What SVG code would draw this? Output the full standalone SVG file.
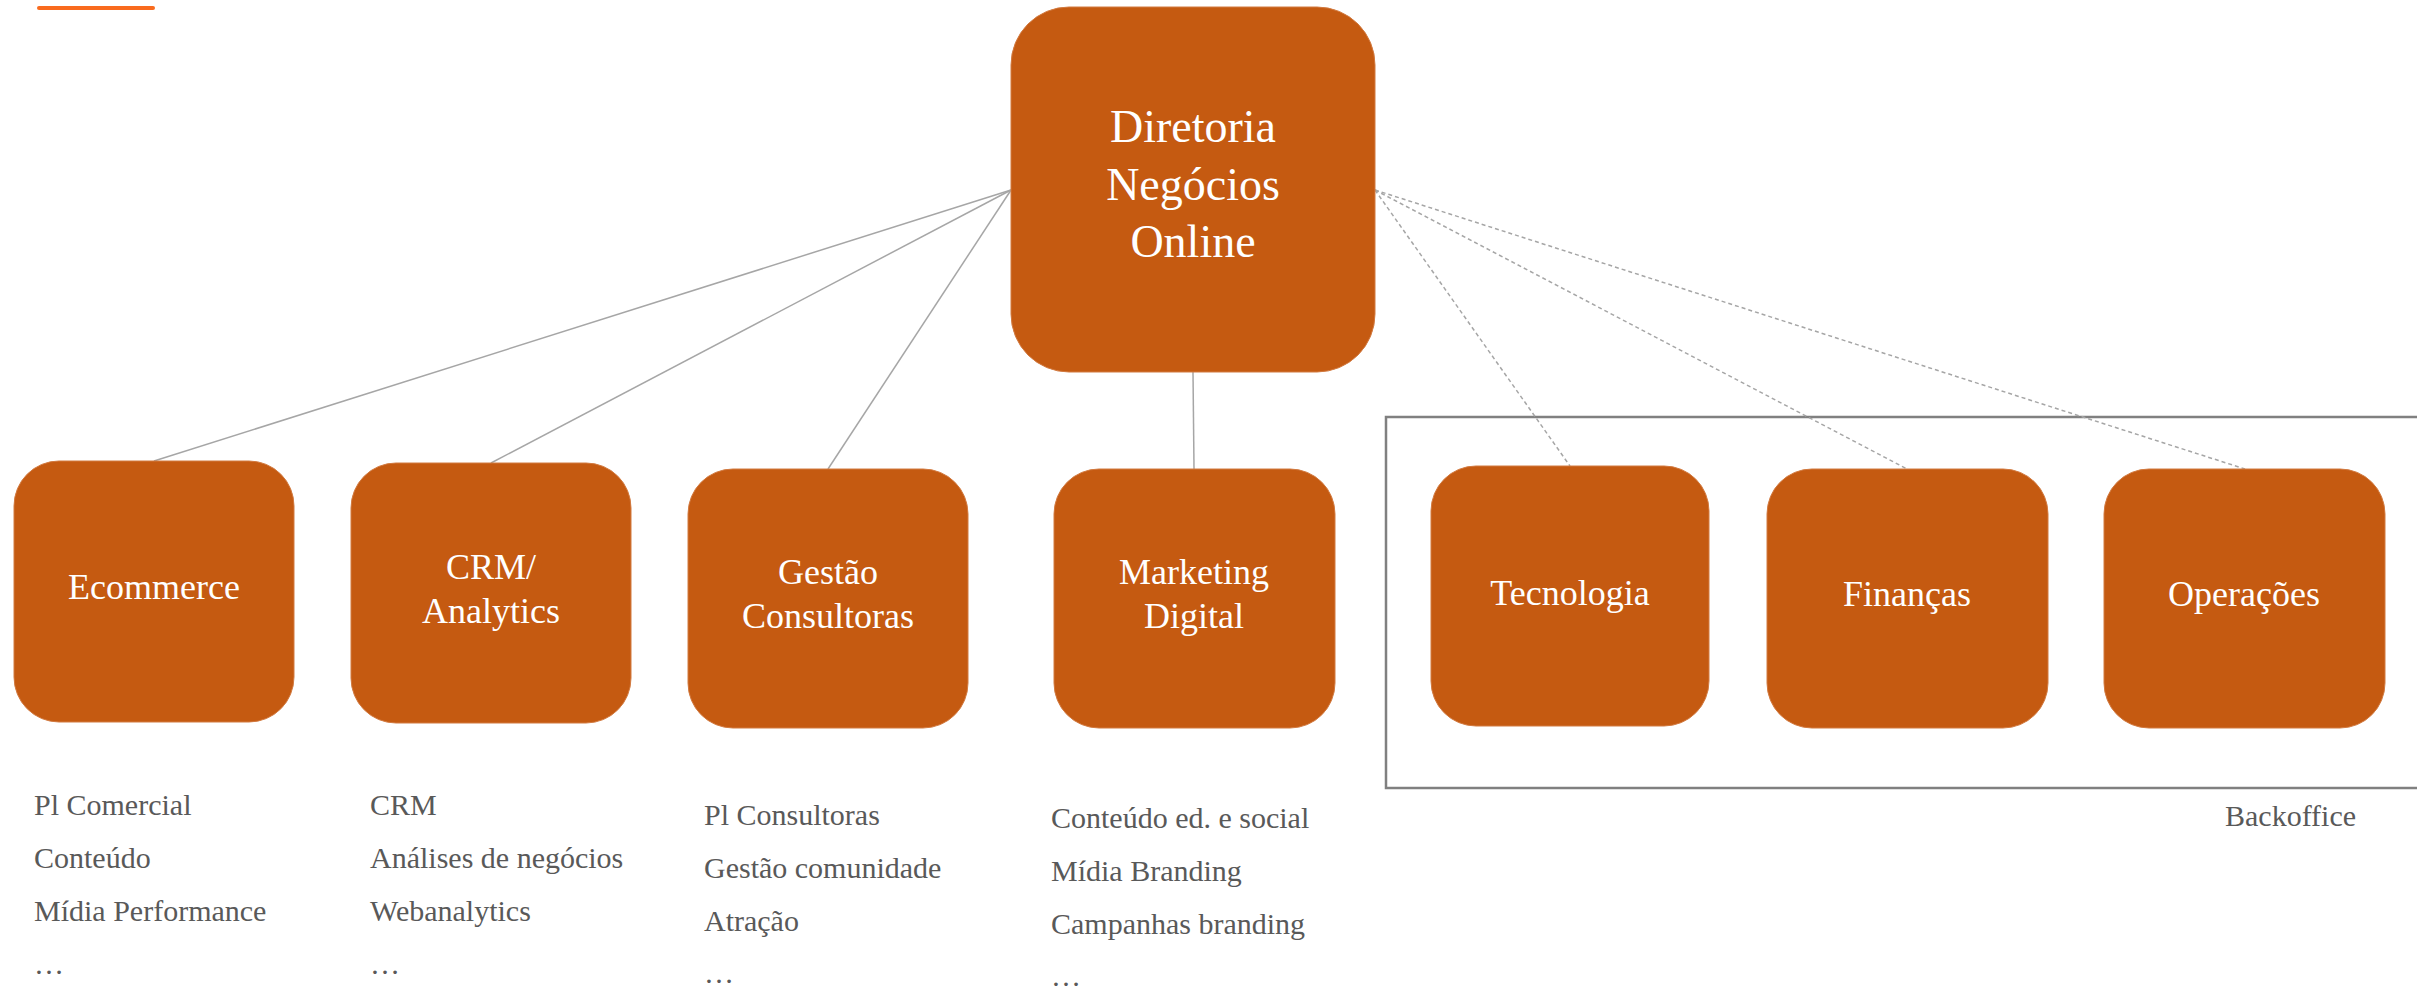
<svg xmlns="http://www.w3.org/2000/svg" width="2417" height="989" viewBox="0 0 2417 989">
<style>
.box{fill:#C55A11;stroke:#D27a40;stroke-width:1}
.lbl{font-family:"Liberation Serif","Times New Roman",serif;fill:#ffffff;text-anchor:middle}
.big{font-size:46px}
.mid{font-size:36px}
.lst{font-family:"Liberation Serif","Times New Roman",serif;font-size:30px;fill:#595959}
.solid{stroke:#a6a6a6;stroke-width:1.5;fill:none}
.dash{stroke:#a6a6a6;stroke-width:1.5;fill:none;stroke-dasharray:4 3}
</style>
<rect width="2417" height="989" fill="#ffffff"/>
<line x1="39" y1="8" x2="153" y2="8" stroke="#F96B1E" stroke-width="4" stroke-linecap="round"/>
<rect id="backoffice-frame" x="1386" y="417" width="1040" height="371" fill="none" stroke="#808080" stroke-width="2.5"/>
<g id="connectors">
<line class="solid" x1="1011" y1="190" x2="154" y2="461"/>
<line class="solid" x1="1011" y1="190" x2="491" y2="463"/>
<line class="solid" x1="1011" y1="190" x2="828" y2="469"/>
<line class="solid" x1="1193" y1="372" x2="1194" y2="469"/>
<line class="dash" x1="1375" y1="190" x2="1570" y2="466"/>
<line class="dash" x1="1375" y1="190" x2="1907" y2="469"/>
<line class="dash" x1="1375" y1="190" x2="2245" y2="469"/>
</g>
<g id="diretoria">
<rect class="box" x="1011" y="7" width="364" height="365" rx="58" ry="58"/>
<text class="lbl big" x="1193" y="142">Diretoria</text>
<text class="lbl big" x="1193" y="200">Negócios</text>
<text class="lbl big" x="1193" y="257">Online</text>
</g>
<g id="ecommerce">
<rect class="box" x="14" y="461" width="280" height="261" rx="45" ry="45"/>
<text class="lbl mid" x="154" y="599">Ecommerce</text>
</g>
<g id="crm">
<rect class="box" x="351" y="463" width="280" height="260" rx="45" ry="45"/>
<text class="lbl mid" x="491" y="579">CRM/</text>
<text class="lbl mid" x="491" y="623">Analytics</text>
</g>
<g id="gestao">
<rect class="box" x="688" y="469" width="280" height="259" rx="45" ry="45"/>
<text class="lbl mid" x="828" y="584">Gestão</text>
<text class="lbl mid" x="828" y="628">Consultoras</text>
</g>
<g id="marketing">
<rect class="box" x="1054" y="469" width="281" height="259" rx="45" ry="45"/>
<text class="lbl mid" x="1194" y="584">Marketing</text>
<text class="lbl mid" x="1194" y="628">Digital</text>
</g>
<g id="tecnologia">
<rect class="box" x="1431" y="466" width="278" height="260" rx="45" ry="45"/>
<text class="lbl mid" x="1570" y="605">Tecnologia</text>
</g>
<g id="financas">
<rect class="box" x="1767" y="469" width="281" height="259" rx="45" ry="45"/>
<text class="lbl mid" x="1907" y="606">Finanças</text>
</g>
<g id="operacoes">
<rect class="box" x="2104" y="469" width="281" height="259" rx="45" ry="45"/>
<text class="lbl mid" x="2244" y="606">Operações</text>
</g>
<g id="list-ecommerce" class="lst">
<text x="34" y="815">Pl Comercial</text>
<text x="34" y="868">Conteúdo</text>
<text x="34" y="921">Mídia Performance</text>
<text x="34" y="974">…</text>
</g>
<g id="list-crm" class="lst">
<text x="370" y="815">CRM</text>
<text x="370" y="868">Análises de negócios</text>
<text x="370" y="921">Webanalytics</text>
<text x="370" y="974">…</text>
</g>
<g id="list-gestao" class="lst">
<text x="704" y="825">Pl Consultoras</text>
<text x="704" y="878">Gestão comunidade</text>
<text x="704" y="931">Atração</text>
<text x="704" y="983">…</text>
</g>
<g id="list-marketing" class="lst">
<text x="1051" y="828">Conteúdo ed. e social</text>
<text x="1051" y="881">Mídia Branding</text>
<text x="1051" y="934">Campanhas branding</text>
<text x="1051" y="986">…</text>
</g>
<g id="backoffice-label" class="lst">
<text x="2225" y="826">Backoffice</text>
</g>
</svg>
